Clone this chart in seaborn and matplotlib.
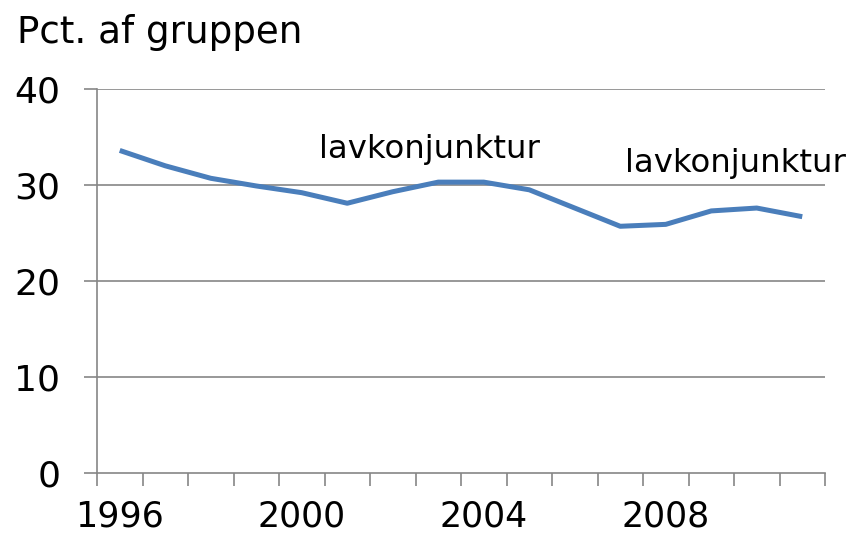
import matplotlib
matplotlib.use('Agg')
import matplotlib.pyplot as plt
import seaborn as sns
import pandas as pd
import numpy as np

# Andel i pct. af gruppen, 1996-2011
years = [1996, 1997, 1998, 1999, 2000, 2001, 2002, 2003,
         2004, 2005, 2006, 2007, 2008, 2009, 2010, 2011]
pct = [33.6, 32.0, 30.7, 29.9, 29.2, 28.1, 29.3, 30.3,
       30.3, 29.5, 27.6, 25.7, 25.9, 27.3, 27.6, 26.7]
year_labels = [1996, 2000, 2004, 2008]
y_ticks = [0, 10, 20, 30, 40]
notes = ['lavkonjunktur', 'lavkonjunktur']
note_pos = [(2000.39, 32.8), (2007.11, 31.35)]

df = pd.DataFrame({'year': years, 'pct': pct})

sns.set_style('white')
plt.rcParams['font.family'] = ['DejaVu Sans']
plt.rcParams['text.color'] = 'black'

grey = '#868686'
fig = plt.figure(figsize=(8.51, 5.39), dpi=100)
ax = fig.add_axes([97 / 851, 1 - 473 / 539, 728 / 851, 384 / 539])

sns.lineplot(data=df, x='year', y='pct', ax=ax, color='#4a7ebb',
             linewidth=3.6, solid_joinstyle='round', solid_capstyle='butt')

ax.set_xlim(1995.5, 2011.5)
ax.set_ylim(0, 40)
ax.set_yticks(y_ticks)
ax.set_xticks(year_labels)
ax.set_xticks(np.arange(1995.5, 2012, 1), minor=True)
ax.set_xlabel('')
ax.set_ylabel('')

for y in y_ticks[1:]:
    ax.axhline(y, color=grey, linewidth=1.2, zorder=0)

ax.tick_params(axis='y', left=True, length=9.5, width=1.2, color=grey, pad=17,
               labelsize=26, labelcolor='black')
ax.tick_params(axis='x', which='major', bottom=True, length=0, pad=19,
               labelsize=25, labelcolor='black')
ax.tick_params(axis='x', which='minor', bottom=True, length=9.5, width=1.2,
               color=grey)

for side in ['top', 'right']:
    ax.spines[side].set_visible(False)
for side in ['left', 'bottom']:
    ax.spines[side].set_color(grey)
    ax.spines[side].set_linewidth(1.2)

for txt, (x, y) in zip(notes, note_pos):
    ax.text(x, y, txt, fontsize=23.3, color='black', ha='left',
            va='baseline', clip_on=False)

fig.text(17 / 851, 1 - 43 / 539, 'Pct. af gruppen', fontsize=26.8,
         color='black', ha='left', va='baseline')

fig.savefig('out.png', dpi=100)
